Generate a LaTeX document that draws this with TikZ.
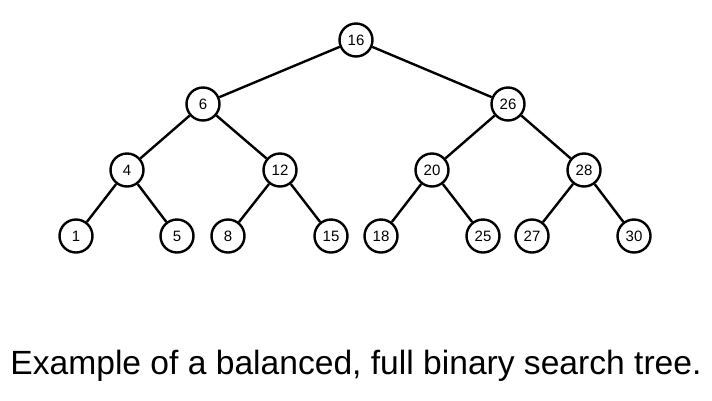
\documentclass[tikz,border=0pt]{standalone}
\usepackage{fontspec}
\setmainfont{Liberation Sans}
\begin{document}
\begin{tikzpicture}[x=1pt,y=-1pt,
    key/.style={draw, circle, line width=2.4pt, minimum size=33pt, inner sep=0pt, font=\fontsize{15}{15}\selectfont},
    link/.style={line width=2.4pt}]
    \useasboundingbox (0,0) rectangle (712,400);
        % root and inner keys
        \draw (356,40) node[key](k16){16};
        \draw (203,104) node[key](k6){6};
        \draw (508,104) node[key](k26){26};
        \draw (127,170) node[key](k4){4};
        \draw (280,170) node[key](k12){12};
        \draw (432,170) node[key](k20){20};
        \draw (584,170) node[key](k28){28};
        % leaves
        \draw (76,236) node[key](k1){1};
        \draw (177,236) node[key](k5){5};
        \draw (228,236) node[key](k8){8};
        \draw (331,236) node[key](k15){15};
        \draw (381,236) node[key](k18){18};
        \draw (483,236) node[key](k25){25};
        \draw (532,236) node[key](k27){27};
        \draw (634,236) node[key](k30){30};
        \draw[link] (k16) -- (k6);
        \draw[link] (k16) -- (k26);
        \draw[link] (k6) -- (k4);
        \draw[link] (k6) -- (k12);
        \draw[link] (k26) -- (k20);
        \draw[link] (k26) -- (k28);
        \draw[link] (k4) -- (k1);
        \draw[link] (k4) -- (k5);
        \draw[link] (k12) -- (k8);
        \draw[link] (k12) -- (k15);
        \draw[link] (k20) -- (k18);
        \draw[link] (k20) -- (k25);
        \draw[link] (k28) -- (k27);
        \draw[link] (k28) -- (k30);
        \draw (356,366) node[font=\fontsize{33.6}{34}\selectfont](caption){Example of a balanced, full binary search tree.};
\end{tikzpicture}
\end{document}
